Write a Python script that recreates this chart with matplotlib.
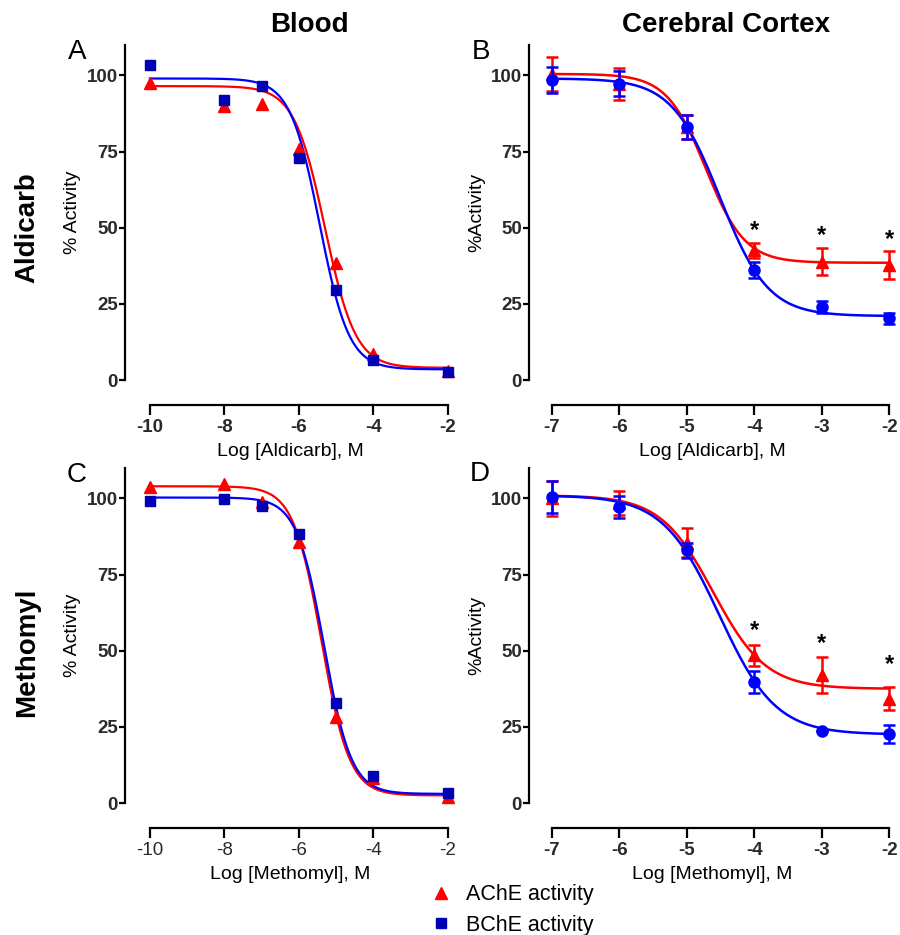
import numpy as np
import matplotlib
matplotlib.use('Agg')
import matplotlib.pyplot as plt
from matplotlib.lines import Line2D

plt.rcParams['font.family'] = ['Liberation Sans', 'DejaVu Sans']

# --- data ---
# Blood (A, C): single values, no error bars
x_blood = [-10, -8, -7, -6, -5, -4, -2]
ald_ache_blood = [97.5, 90.0, 90.5, 76.0, 38.5, 8.5, 3.0]
ald_bche_blood = [103.5, 92.0, 96.5, 73.0, 29.5, 6.5, 2.5]
met_ache_blood = [103.7, 104.8, 99.0, 85.7, 28.3, 8.1, 2.1]
met_bche_blood = [99.3, 99.9, 97.4, 88.4, 32.7, 8.9, 3.2]

# Cerebral cortex (B, D): mean +/- error
x_ctx = [-7, -6, -5, -4, -3, -2]
ald_ache_ctx = [100.5, 97.3, 83.0, 42.6, 38.8, 37.7]
ald_ache_ctx_err = [5.7, 5.2, 4.0, 2.4, 4.4, 4.6]
ald_bche_ctx = [98.4, 97.3, 83.0, 36.1, 24.0, 20.2]
ald_bche_ctx_err = [4.3, 4.1, 4.0, 2.6, 2.0, 1.7]
met_ache_ctx = [100.0, 98.6, 85.5, 48.5, 42.0, 34.3]
met_ache_ctx_err = [5.6, 4.0, 4.8, 3.4, 6.0, 3.8]
met_bche_ctx = [100.4, 97.1, 83.0, 39.8, 23.7, 22.6]
met_bche_ctx_err = [5.2, 3.6, 2.5, 3.6, 0.0, 2.9]

# significance markers (x, y of the asterisk)
ald_star_x = [-4, -3, -2]
ald_star_y = [49.2, 47.5, 46.1]
met_star_x = [-4, -3, -2]
met_star_y = [56.7, 52.4, 45.5]

# sigmoid fit parameters: top, bottom, logIC50, hill
fit_ald_ache_blood = [96.5, 4.0, -5.30, 1.05]
fit_ald_bche_blood = [99.0, 3.5, -5.44, 1.10]
fit_met_ache_blood = [104.0, 2.5, -5.39, 1.15]
fit_met_bche_blood = [100.3, 3.0, -5.32, 1.18]
fit_ald_ache_ctx = [100.5, 38.5, -4.72, 1.50]
fit_ald_bche_ctx = [99.0, 21.0, -4.51, 1.22]
fit_met_ache_ctx = [101.0, 37.5, -4.61, 1.11]
fit_met_bche_ctx = [101.0, 22.5, -4.52, 1.04]

RED = '#ff0000'
BLUE_SQ = '#0000b4'
BLUE = '#0000ff'
TXT = '#2a2a2a'


def sigmoid(p, x):
    top, bottom, x50, h = p
    return bottom + (top - bottom) / (1 + 10 ** (h * (x - x50)))


fig = plt.figure(figsize=(9, 9.35), dpi=100)
W, H = 900.0, 935.0


def make_ax(left, right, top, bottom, xlim, xticks, xbold):
    ax = fig.add_axes([left / W, 1 - bottom / H, (right - left) / W, (bottom - top) / H])
    ax.set_xlim(*xlim)
    ax.set_ylim(0, 110)
    for s in ['top', 'right']:
        ax.spines[s].set_visible(False)
    ax.spines['left'].set_linewidth(1.6)
    ax.spines['bottom'].set_linewidth(1.6)
    ax.spines['bottom'].set_position(('outward', 18))
    ax.spines['bottom'].set_bounds(xticks[0], xticks[-1])
    ax.set_xticks(xticks)
    ax.set_xticklabels([str(t) for t in xticks])
    ax.set_yticks([0, 25, 50, 75, 100])
    ax.tick_params(axis='y', length=4, width=1.6, pad=1, labelsize=13.5, labelcolor=TXT)
    ax.tick_params(axis='x', length=7, width=1.6, pad=3, labelsize=13.5, labelcolor=TXT)
    for lab in ax.get_yticklabels():
        lab.set_fontweight('bold')
    for lab in ax.get_xticklabels():
        lab.set_fontweight('bold' if xbold else 'normal')
    return ax


def blood_panel(ax, ache, bche, fa, fb, xlabel):
    xs = np.linspace(-10, -2, 400)
    ax.plot(xs, sigmoid(fa, xs), color=RED, lw=1.6, zorder=2)
    ax.plot(xs, sigmoid(fb, xs), color=BLUE, lw=1.6, zorder=2)
    ax.plot(x_blood, ache, '^', color=RED, ms=8, zorder=3, clip_on=False)
    ax.plot(x_blood, bche, 's', color=BLUE_SQ, ms=7.5, zorder=4, clip_on=False)
    ax.set_xlabel(xlabel, fontsize=14, labelpad=5)
    ax.set_ylabel('% Activity', fontsize=14, labelpad=4)


def ctx_panel(ax, ache, ache_e, bche, bche_e, fa, fb, sx, sy, xlabel):
    xs = np.linspace(-7, -2, 400)
    ax.plot(xs, sigmoid(fa, xs), color=RED, lw=1.8, zorder=2)
    ax.plot(xs, sigmoid(fb, xs), color=BLUE, lw=1.8, zorder=2)
    ax.errorbar(x_ctx, ache, yerr=ache_e, fmt='^', color=RED, ms=8,
                capsize=4.5, elinewidth=1.8, capthick=1.8, zorder=3, clip_on=False)
    ax.errorbar(x_ctx, bche, yerr=bche_e, fmt='o', color=BLUE, ms=8,
                capsize=4.5, elinewidth=1.8, capthick=1.8, zorder=4, clip_on=False)
    for x, y in zip(sx, sy):
        ax.text(x, y, '*', fontsize=17, fontweight='bold', ha='center', va='center')
    ax.set_xlabel(xlabel, fontsize=14, labelpad=5)
    ax.set_ylabel('%Activity', fontsize=14, labelpad=4)


axA = make_ax(125, 455, 45, 380, (-10.67, -1.8), [-10, -8, -6, -4, -2], True)
axB = make_ax(529, 896, 45, 380, (-7.34, -1.9), [-7, -6, -5, -4, -3, -2], True)
axC = make_ax(125, 455, 468, 803, (-10.67, -1.8), [-10, -8, -6, -4, -2], False)
axD = make_ax(529, 896, 468, 803, (-7.34, -1.9), [-7, -6, -5, -4, -3, -2], True)

blood_panel(axA, ald_ache_blood, ald_bche_blood, fit_ald_ache_blood, fit_ald_bche_blood,
            'Log [Aldicarb], M')
blood_panel(axC, met_ache_blood, met_bche_blood, fit_met_ache_blood, fit_met_bche_blood,
            'Log [Methomyl], M')
ctx_panel(axB, ald_ache_ctx, ald_ache_ctx_err, ald_bche_ctx, ald_bche_ctx_err,
          fit_ald_ache_ctx, fit_ald_bche_ctx, ald_star_x, ald_star_y, 'Log [Aldicarb], M')
ctx_panel(axD, met_ache_ctx, met_ache_ctx_err, met_bche_ctx, met_bche_ctx_err,
          fit_met_ache_ctx, fit_met_bche_ctx, met_star_x, met_star_y, 'Log [Methomyl], M')

# column / row headings and panel letters
fig.text(309 / W, 1 - 25 / H, 'Blood', fontsize=20, fontweight='bold', ha='center', va='center')
fig.text(726 / W, 1 - 25 / H, 'Cerebral Cortex', fontsize=20, fontweight='bold', ha='center', va='center')
fig.text(27 / W, 1 - 228 / H, 'Aldicarb', fontsize=20, fontweight='bold', rotation=90, ha='center', va='center')
fig.text(27 / W, 1 - 652 / H, 'Methomyl', fontsize=20, fontweight='bold', rotation=90, ha='center', va='center')
for letter, px, py in [('A', 77, 52), ('B', 481, 52), ('C', 77, 475), ('D', 480, 474)]:
    fig.text(px / W, 1 - py / H, letter, fontsize=20, ha='center', va='center')

# legend
handles = [Line2D([], [], ls='none', marker='^', color=RED, ms=8),
           Line2D([], [], ls='none', marker='s', color=BLUE_SQ, ms=7.5)]
fig.legend(handles, ['AChE activity', 'BChE activity'], loc='center left',
           bbox_to_anchor=(419 / W, 1 - 910 / H), frameon=False, fontsize=15.5,
           handlelength=1.0, handletextpad=0.7, labelspacing=0.45, borderpad=0)

fig.savefig('out.png', dpi=100)
